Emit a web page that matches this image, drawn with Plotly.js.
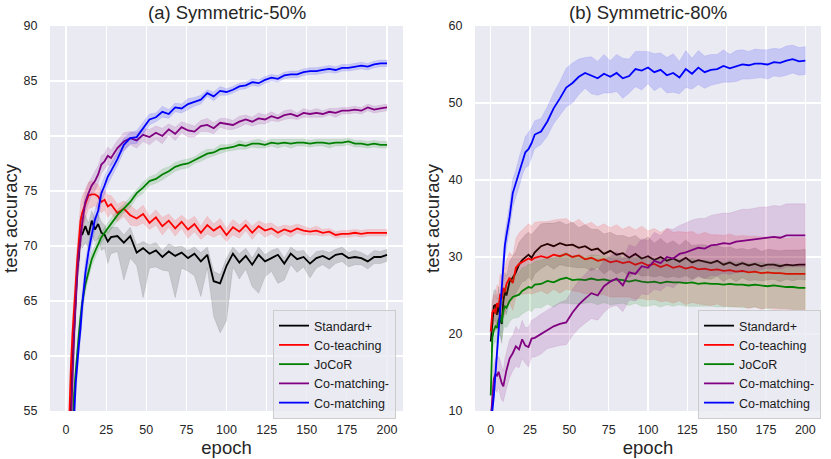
<!DOCTYPE html>
<html>
<head>
<meta charset="utf-8">
<script src="https://cdn.plot.ly/plotly-3.0.1.min.js"></script>
<style>
  html, body { margin: 0; padding: 0; background: #fff; }
  #plot { width: 831px; height: 459px; }
</style>
</head>
<body>
<div id="plot"></div>
<script>
// epochs sampled from the curves (denser at the start where they rise fast)
let epochs = [0,1,2,3,4,5,6,7,8,9,10,12,14,16,18,20,22,24,26,28,
  32,36,40,44,48,52,56,60,64,68,72,76,80,84,88,92,96,100,104,108,
  112,116,120,124,128,132,136,140,144,148,152,156,160,164,168,172,176,180,184,188,
  192,196,200];

let methods = ["Standard+", "Co-teaching", "JoCoR", "Co-matching-", "Co-matching"];
let panelTitles = ["(a) Symmetric-50%", "(b) Symmetric-80%"];
let xTicks = [0, 25, 50, 75, 100, 125, 150, 175, 200];

// ---- Symmetric-50% ----
let black50 = [42,47,52,56,59.5,62.5,65,68,69,71.5,71.0,
  71.8,71.0,72.3,71.5,72.0,71.2,71.0,70.4,70.8,
  70.9,70.3,70.9,69.4,69.8,69.3,69.6,69.0,69.5,69.1,
  69.4,68.9,69.3,68.6,69.2,66.8,66.6,68.2,69.3,68.5,
  69.1,68.3,69.2,68.6,68.9,69.2,68.4,69.3,68.8,69.0,
  68.4,68.9,69.1,68.8,69.2,69.3,68.9,69.0,68.9,68.6,
  69.0,69.0,69.2];
let black50Up = [1.2,1.2,1.2,1.2,1.2,1.2,1.2,1.2,1.2,1.2,1.2,
  1.0,1.1,0.9,1.0,0.9,1.0,0.9,0.8,0.9,
  0.8,0.7,0.8,0.7,0.6,0.8,0.7,0.6,0.7,0.8,
  0.6,0.7,0.6,0.8,0.7,0.9,0.8,0.7,0.6,0.8,
  0.7,0.6,0.7,0.6,0.7,0.6,0.5,0.6,0.7,0.6,
  0.5,0.6,0.5,0.6,0.5,0.6,0.5,0.6,0.5,0.5,
  0.6,0.5,0.5];
let black50Dn = [1.2,1.2,1.2,1.2,1.2,1.2,1.2,1.2,1.2,1.2,1.2,
  1.5,1.2,1.4,1.1,1.3,1.6,1.2,2.0,1.5,
  1.4,3.4,2.0,1.2,4.5,1.3,1.5,1.2,1.8,3.8,
  1.4,1.2,2.0,3.2,1.2,3.2,4.5,5.0,1.2,1.5,
  1.2,2.0,3.5,1.4,1.2,2.6,1.5,1.0,1.2,0.9,
  1.3,0.9,0.8,0.9,0.8,0.7,0.8,0.7,0.6,0.7,
  0.6,0.6,0.6];
let red50 = [45,50,54.5,59,62,64.5,67,68.8,70.5,72.3,73.0,
  73.8,74.6,74.7,74.7,74.5,74.0,74.2,73.6,73.8,
  73.0,73.4,72.8,72.5,72.9,72.1,72.6,71.8,72.3,71.6,
  72.2,71.5,72.0,71.2,71.9,71.4,71.8,71.0,71.7,71.3,
  71.9,71.2,71.8,71.4,71.6,71.2,71.5,71.3,71.6,71.4,
  71.3,71.4,71.2,71.3,71.0,71.1,71.1,71.2,71.1,71.2,
  71.2,71.2,71.2];
let red50Sd = [1.5,1.5,1.5,1.5,1.5,1.5,1.5,1.5,1.5,1.5,1.5,
  1.3,1.2,1.2,1.0,1.1,1.0,0.9,1.0,0.8,
  0.8,0.7,0.9,0.7,0.8,0.6,0.7,0.8,0.6,0.7,
  0.6,0.8,0.7,0.6,0.8,0.6,0.7,0.6,0.7,0.6,
  0.5,0.6,0.5,0.6,0.5,0.5,0.4,0.5,0.4,0.4,
  0.3,0.4,0.3,0.3,0.3,0.3,0.3,0.3,0.3,0.3,
  0.3,0.3,0.3];
let green50 = [38,42,46,50,53.5,56.5,58.5,60.5,62,63.5,64.8,
  66.5,67.8,68.8,69.5,70.2,70.8,71.2,71.6,72.0,
  72.8,73.4,74.0,74.8,75.3,75.9,76.1,76.5,76.8,77.2,
  77.4,77.5,77.8,78.1,78.4,78.5,78.8,78.9,79.0,79.2,
  79.1,79.3,79.3,79.2,79.4,79.3,79.4,79.3,79.4,79.4,
  79.3,79.4,79.4,79.3,79.4,79.4,79.5,79.3,79.3,79.2,
  79.3,79.2,79.2];
let green50Sd = [0.8,0.8,0.8,0.8,0.8,0.8,0.8,0.8,0.8,0.8,0.8,
  0.7,0.7,0.6,0.6,0.6,0.5,0.5,0.5,0.5,
  0.5,0.4,0.5,0.4,0.5,0.4,0.4,0.5,0.4,0.4,
  0.4,0.4,0.3,0.4,0.4,0.3,0.4,0.3,0.3,0.4,
  0.3,0.3,0.4,0.3,0.3,0.4,0.3,0.4,0.3,0.3,
  0.3,0.3,0.3,0.4,0.3,0.3,0.3,0.3,0.3,0.3,
  0.3,0.3,0.3];
let purple50 = [40,45,50,54.5,58,62,65.5,67.5,69.5,70.5,72,
  74,74.8,75.5,75.9,76.5,77.4,77.7,78.2,78.0,
  78.9,79.5,79.8,79.6,80.1,79.9,80.3,80.0,80.6,80.2,
  80.8,80.5,80.4,80.9,81.0,80.7,81.2,81.1,81.0,81.3,
  81.5,81.3,81.6,81.5,81.8,81.6,81.9,82.0,81.8,82.1,
  82.0,82.1,82.0,82.2,82.1,82.3,82.3,82.4,82.3,82.6,
  82.4,82.5,82.6];
let purple50Sd = [1.0,1.0,1.0,1.0,1.0,1.0,1.0,1.0,1.0,1.0,1.0,
  0.9,0.9,0.8,0.9,0.8,0.8,0.7,0.8,0.7,
  0.7,0.8,0.6,0.7,0.6,0.7,0.6,0.7,0.5,0.6,
  0.5,0.6,0.5,0.5,0.6,0.5,0.4,0.5,0.4,0.5,
  0.4,0.4,0.5,0.4,0.4,0.3,0.4,0.4,0.3,0.4,
  0.3,0.4,0.3,0.3,0.4,0.3,0.3,0.3,0.3,0.3,
  0.3,0.3,0.3];
let blue50 = [36,40,44,47.5,51,54.5,57.5,59.5,61,62.5,64.5,
  67.5,69.5,71,72.4,73.2,74.8,75.5,76.3,76.8,
  77.9,79.2,79.8,79.9,80.7,81.5,81.7,82.2,82.0,82.6,
  82.5,82.9,83.1,83.3,83.9,83.6,84.1,84.0,84.2,84.5,
  84.6,84.9,84.8,85.1,85.3,85.2,85.5,85.6,85.6,85.8,
  85.9,85.9,86.0,86.1,86.0,86.2,86.2,86.3,86.4,86.3,
  86.5,86.6,86.6];
let blue50Sd = [1.2,1.2,1.2,1.2,1.2,1.2,1.2,1.2,1.2,1.2,1.2,
  1.1,1.0,1.0,0.9,0.9,0.8,0.8,0.7,0.7,
  0.6,0.6,0.5,0.6,0.5,0.5,0.4,0.5,0.4,0.4,
  0.4,0.5,0.4,0.4,0.3,0.4,0.4,0.3,0.3,0.3,
  0.3,0.3,0.3,0.3,0.3,0.3,0.3,0.3,0.3,0.3,
  0.3,0.3,0.3,0.3,0.3,0.3,0.3,0.3,0.3,0.3,
  0.3,0.3,0.3];

// ---- Symmetric-80% ----
let black80 = [19,22,23.6,23.8,22.5,23.9,22.0,21.3,24.2,25.5,25.0,
  26.8,27.3,28.0,29.0,29.6,29.9,30.3,29.9,30.6,
  31.4,31.7,31.4,31.8,31.5,31.6,31.2,31.4,30.9,31.1,
  30.4,30.8,30.3,30.5,29.9,30.4,29.8,30.1,29.6,30.0,
  29.5,29.8,29.4,29.9,29.3,29.6,29.4,29.2,29.5,29.0,
  29.3,28.9,29.2,28.9,29.1,28.8,29.0,29.0,28.8,29.0,
  28.9,29.0,29.0];
let black80Sd = [1.5,2.0,2.0,2.0,2.0,2.2,2.2,2.5,2.5,2.5,2.5,
  2.6,2.8,2.7,2.9,2.8,3.0,2.9,3.0,2.8,
  2.9,2.7,3.0,2.8,2.7,2.9,2.6,2.8,2.7,2.5,
  2.6,2.4,2.5,2.3,2.6,2.4,2.3,2.5,2.2,2.4,
  2.2,2.3,2.1,2.3,2.2,2.0,2.2,2.1,2.0,2.2,
  2.0,2.1,1.9,2.0,2.1,1.9,2.0,1.9,2.0,1.9,
  2.0,1.9,2.0];
let red80 = [20.3,22.8,23.2,22.6,24.0,23.5,25.2,24.5,26.0,25.4,26.5,
  27.3,26.6,28.6,29.1,29.3,29.5,29.8,29.6,29.9,
  30.1,29.9,30.3,30.1,30.4,30.0,30.2,29.7,29.9,29.5,
  29.7,29.3,29.5,29.2,29.4,29.0,29.3,28.9,29.1,28.7,
  29.0,28.6,28.8,28.5,28.7,28.4,28.5,28.3,28.4,28.2,
  28.3,28.1,28.2,28.0,28.1,27.9,28.0,27.9,27.9,27.8,
  27.8,27.8,27.8];
let red80Sd = [1.0,1.5,2.0,2.2,2.4,2.5,2.6,2.8,2.9,3.0,3.0,
  3.3,3.5,3.8,4.0,4.2,4.3,4.5,4.4,4.6,
  4.5,4.7,4.5,4.8,4.6,4.4,4.7,4.5,4.6,4.4,
  4.6,4.5,4.7,4.4,4.6,4.5,4.7,4.5,4.6,4.5,
  4.7,4.6,4.5,4.7,4.6,4.5,4.7,4.6,4.5,4.6,
  4.7,4.6,4.6,4.7,4.6,4.7,4.6,4.7,4.7,4.6,
  4.7,4.7,4.7];
let green80 = [12,19.5,20.5,21.0,20.8,21.8,22.3,21.5,23.0,23.6,23.4,
  24.3,24.8,24.9,25.1,25.6,25.8,26.1,26.0,26.4,
  26.5,26.9,26.7,27.1,27.3,27.0,27.1,27.0,27.2,27.0,
  27.1,26.9,27.1,27.0,26.8,27.0,26.8,26.7,26.8,26.6,
  26.8,26.7,26.7,26.6,26.7,26.5,26.6,26.5,26.5,26.4,
  26.5,26.4,26.4,26.3,26.4,26.3,26.2,26.3,26.2,26.1,
  26.1,26.0,26.0];
let green80Sd = [1.0,1.5,1.8,2.0,2.0,2.2,2.3,2.3,2.5,2.5,2.6,
  2.7,2.8,2.8,2.9,3.0,2.9,3.0,3.1,3.0,
  3.1,3.0,3.2,3.1,3.3,3.1,3.2,3.0,3.1,3.2,
  3.0,3.1,3.2,3.0,3.1,3.0,3.2,3.1,3.0,3.1,
  3.0,3.1,2.9,3.0,3.1,2.9,3.0,2.9,3.0,2.9,
  3.0,2.9,3.0,2.9,2.9,3.0,2.9,2.9,2.9,2.8,
  2.9,2.8,2.8];
let purple80 = [9,11.5,14.2,14.8,14.6,15.1,14.3,13.6,13.2,14.5,15.3,
  16.8,17.5,18.4,18.0,19.3,18.5,18.3,19.4,19.5,
  20.0,20.6,21.0,21.3,21.5,22.8,23.8,24.6,25.3,25.0,
  26.2,26.8,27.2,26.3,28.0,27.8,28.8,28.6,29.5,29.2,
  30.0,29.8,30.4,30.6,30.9,31.2,31.1,31.5,31.6,31.8,
  31.7,32.0,32.1,32.2,32.3,32.4,32.5,32.6,32.5,32.8,
  32.8,32.8,32.8];
let purple80Sd = [1.0,1.5,1.8,2.0,2.2,2.0,2.3,2.2,2.0,2.3,2.4,
  2.5,2.3,2.6,2.4,2.5,2.3,2.6,2.4,2.5,
  2.6,2.5,2.7,2.8,2.9,3.0,3.1,3.2,3.3,3.2,
  3.4,3.3,3.5,3.4,3.6,3.5,3.6,3.5,3.7,3.6,
  3.7,3.8,3.7,3.8,3.9,3.8,3.9,3.9,4.0,3.9,
  4.0,4.0,4.1,4.0,4.1,4.1,4.0,4.1,4.1,4.1,
  4.1,4.1,4.1];
let blue80 = [9,10,12,15,18,20.5,23.5,26.5,29,31.5,32.8,
  35.2,38.3,39.6,41.0,42.4,43.6,44.0,44.8,45.9,
  46.3,47.6,49.3,50.6,52.0,52.6,53.4,53.9,53.6,53.2,
  53.8,53.4,53.9,53.2,53.5,54.4,54.2,54.6,54.0,54.3,
  53.6,53.9,53.3,54.4,53.8,54.6,54.0,54.3,54.4,54.8,
  54.5,54.8,55.0,54.9,55.1,55.1,55.0,55.3,55.2,55.5,
  55.7,55.4,55.5];
let blue80Sd = [0.8,0.8,1.0,1.2,1.3,1.5,1.5,1.5,1.6,1.6,1.5,
  1.6,1.8,1.7,1.9,1.8,2.0,2.2,2.0,1.8,
  1.7,1.9,2.0,2.2,2.5,2.6,2.3,2.0,2.4,2.2,
  2.5,2.1,2.4,2.6,2.2,2.3,2.5,2.1,2.4,2.2,
  2.3,2.5,2.1,2.4,2.0,2.2,2.1,2.0,1.9,2.1,
  1.8,2.0,1.9,1.8,1.9,1.8,1.9,1.8,1.8,1.9,
  1.8,1.8,1.8];

let colors = ["#000000", "#ff0000", "#008000", "#800080", "#0000ff"];
let fills = ["rgba(0,0,0,0.15)", "rgba(255,0,0,0.15)", "rgba(0,128,0,0.15)",
             "rgba(128,0,128,0.15)", "rgba(0,0,255,0.15)"];

let panel50 = [
  [black50, black50Up, black50Dn],
  [red50, red50Sd, red50Sd],
  [green50, green50Sd, green50Sd],
  [purple50, purple50Sd, purple50Sd],
  [blue50, blue50Sd, blue50Sd]
];
let panel80 = [
  [black80, black80Sd, black80Sd],
  [red80, red80Sd, red80Sd],
  [green80, green80Sd, green80Sd],
  [purple80, purple80Sd, purple80Sd],
  [blue80, blue80Sd, blue80Sd]
];

let traces = [];

function addPanel(series, xa, ya, legendId) {
  series.forEach(function (s, k) {
    let mean = s[0], up = s[1], dn = s[2];
    let upper = mean.map((v, i) => v + up[i]);
    let lower = mean.map((v, i) => v - dn[i]);
    // shaded band
    traces.push({
      x: epochs.concat(epochs.slice().reverse()),
      y: upper.concat(lower.slice().reverse()),
      xaxis: xa, yaxis: ya,
      type: 'scatter', mode: 'lines',
      fill: 'toself',
      fillcolor: fills[k],
      line: { width: 0.6, color: fills[k] },
      hoverinfo: 'skip',
      showlegend: false
    });
    // mean line
    traces.push({
      x: epochs, y: mean,
      xaxis: xa, yaxis: ya,
      type: 'scatter', mode: 'lines',
      name: methods[k],
      legend: legendId,
      line: { color: colors[k], width: 1.8 }
    });
  });
}

addPanel(panel50, 'x', 'y', 'legend');
addPanel(panel80, 'x2', 'y2', 'legend2');

let fontFam = 'Liberation Sans, Arial, sans-serif';
let textCol = '#262626';

function xAxis(domain, anchor) {
  return {
    domain: domain, anchor: anchor,
    range: [-10, 210],
    tickvals: xTicks,
    ticks: 'outside', ticklen: 7, tickcolor: 'rgba(0,0,0,0)',
    showgrid: true, gridcolor: '#ffffff', gridwidth: 1.2,
    zeroline: false, showline: false,
    tickfont: { size: 12.5, color: textCol },
    title: { text: 'epoch', font: { size: 18.5, color: textCol }, standoff: 4 }
  };
}
function yAxis(range, dtick, anchor) {
  return {
    domain: [0.1046, 0.9434], anchor: anchor,
    range: range, dtick: dtick,
    ticks: 'outside', ticklen: 9, tickcolor: 'rgba(0,0,0,0)',
    showgrid: true, gridcolor: '#ffffff', gridwidth: 1.2,
    zeroline: false, showline: false,
    tickfont: { size: 12.5, color: textCol },
    title: { text: 'test accuracy', font: { size: 18.5, color: textCol }, standoff: 4 }
  };
}

let legendBox = {
  bgcolor: 'rgba(234,234,242,0.8)',
  bordercolor: '#cccccc', borderwidth: 1,
  font: { size: 12.5, color: '#1a1a1a' },
  xanchor: 'left', yanchor: 'top',
  tracegroupgap: 0
};

let layout = {
  width: 831, height: 459,
  margin: { l: 0, r: 0, t: 0, b: 0 },
  paper_bgcolor: '#ffffff',
  plot_bgcolor: '#eaeaf2',
  font: { family: fontFam, color: textCol },
  xaxis: xAxis([0.0602, 0.4850], 'y'),
  yaxis: yAxis([55, 90], 5, 'x'),
  xaxis2: xAxis([0.5716, 0.9880], 'y2'),
  yaxis2: yAxis([10, 60], 10, 'x2'),
  legend: Object.assign({}, legendBox, { x: 0.3285, y: 0.3246 }),
  legend2: Object.assign({}, legendBox, { x: 0.8400, y: 0.3246 }),
  annotations: [
    { text: panelTitles[0], xref: 'paper', yref: 'paper', x: (0.0602 + 0.4850) / 2, y: 0.972,
      xanchor: 'center', yanchor: 'middle', showarrow: false, font: { size: 18.5, color: textCol } },
    { text: panelTitles[1], xref: 'paper', yref: 'paper', x: (0.5716 + 0.9880) / 2, y: 0.972,
      xanchor: 'center', yanchor: 'middle', showarrow: false, font: { size: 18.5, color: textCol } }
  ],
  showlegend: true
};

Plotly.newPlot('plot', traces, layout, { displayModeBar: false, staticPlot: true });
</script>
</body>
</html>
